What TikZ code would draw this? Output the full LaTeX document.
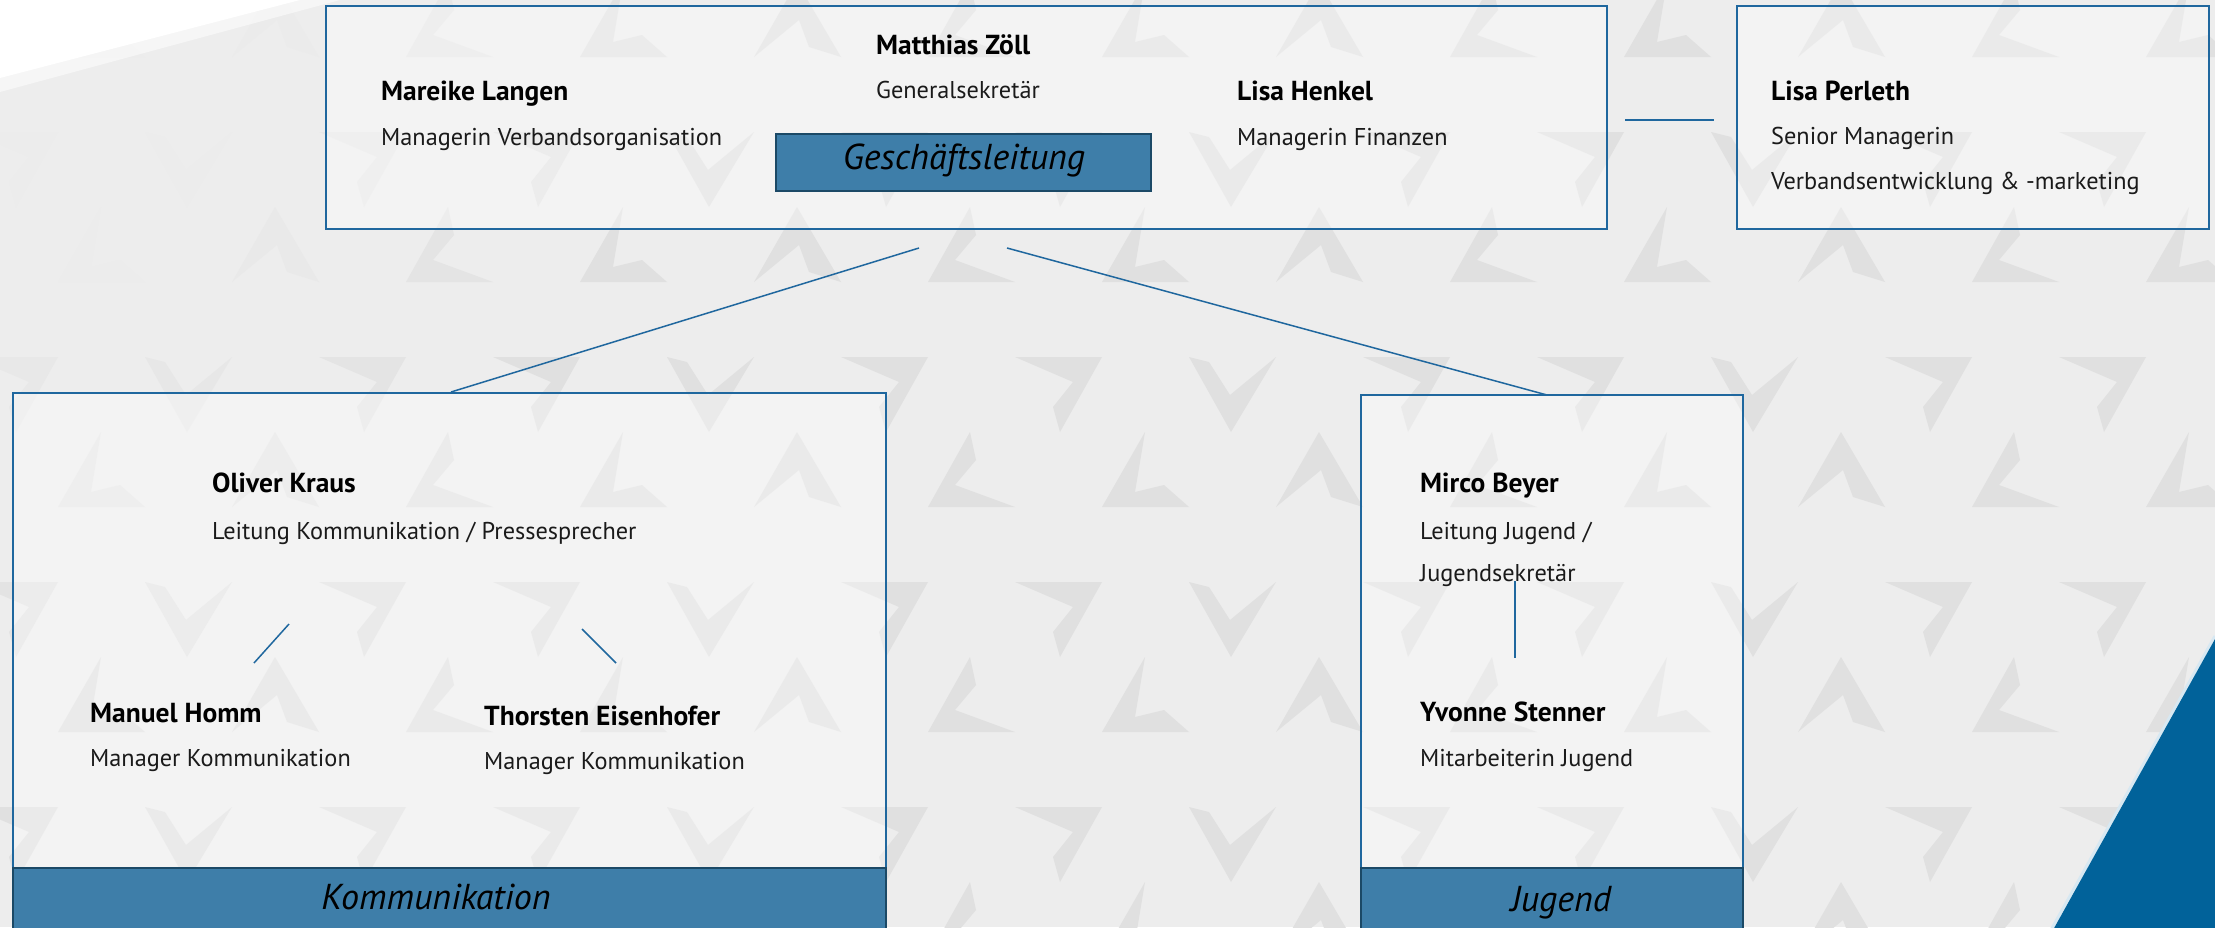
\documentclass[tikz,border=0pt]{standalone}
\usepackage{fontspec}
\setmainfont{PT Sans}
\definecolor{bg}{HTML}{EDEDED}
\definecolor{pat}{HTML}{E0E0E0}
\colorlet{patc}{pat}
\definecolor{frame}{HTML}{1F679E}
\definecolor{band}{HTML}{3E7EA9}
\definecolor{bandedge}{HTML}{1B4966}
\definecolor{corner}{HTML}{01629A}
\definecolor{roletext}{HTML}{1A1A1A}
\tikzset{
  pLa/.pic={\fill[patc] (42,0) -- (48,28) -- (27,53) -- (87,75) -- (0,75) -- cycle;},
  pLb/.pic={\fill[patc] (43,0) -- (33,60) -- (62,53) -- (87,75) -- (0,75) -- cycle;},
  pLam/.pic={\fill[patc] (43,0) -- (87,75) -- (55,65) -- (45,38) -- (0,75) -- cycle;},
  pSeven/.pic={\fill[patc] (0,0) -- (87,0) -- (45,75) -- (38,50) -- (58,25) -- cycle;},
  pVee/.pic={\fill[patc] (0,0) -- (20,5) -- (41,38) -- (87,0) -- (42,75) -- cycle;},
  box/.style={draw=frame, line width=2.5pt, fill=white, fill opacity=0.35, draw opacity=1,
    anchor=north west, inner sep=0pt, outer sep=0pt},
  bandbox/.style={draw=bandedge, line width=2.5pt, fill=band, anchor=north west,
    inner sep=0pt, outer sep=0pt},
  pname/.style={font=\fontsize{27.5}{32}\selectfont\bfseries, anchor=base west, inner sep=0pt, text=black},
  prole/.style={font=\fontsize{24.3}{28}\selectfont, anchor=base west, inner sep=0pt, text=roletext},
  bandtext/.style={font=\fontsize{36}{40}\selectfont\itshape, anchor=base, inner sep=0pt, text=black},
  link/.style={draw=frame, line width=1.5pt}
}
\begin{document}
\begin{tikzpicture}[x=1pt,y=-1pt]
\useasboundingbox (0,0) rectangle (2215,927);
\clip (0,0) rectangle (2215,927);
\fill[bg] (0,0) rectangle (2215,927);
% background pattern, fading out towards the top-left corner
\foreach \m in {-1,...,3}{
  \foreach \j in {-1,...,12}{
    \pgfmathsetmacro\xx{58+174*\j}
    \pgfmathsetmacro\yy{207+225*\m}
    \pgfmathtruncatemacro\tt{mod(\j+3,3)}
    \pgfmathtruncatemacro\pp{min(100,max(8,(veclen(\xx+43,(\yy+37)/1.1)-230)/420*92+8))}
    \colorlet{patc}{pat!\pp!bg}
    \ifcase\tt
      \pic at (\xx,\yy) {pLb};
    \or
      \pic at (\xx,\yy) {pLam};
    \or
      \pic at (\xx,\yy) {pLa};
    \fi
  }
  \foreach \i in {-1,...,12}{
    \pgfmathsetmacro\xx{145+174*\i}
    \pgfmathsetmacro\yy{132+225*\m}
    \pgfmathtruncatemacro\tt{mod(\i+3,3)}
    \pgfmathtruncatemacro\pp{min(100,max(8,(veclen(\xx+43,(\yy+37)/1.1)-230)/420*92+8))}
    \colorlet{patc}{pat!\pp!bg}
    \ifcase\tt
      \pic at (\xx,\yy) {pVee};
    \else
      \pic at (\xx,\yy) {pSeven};
    \fi
  }
}
% top-left white shape
\fill[white, opacity=0.5] (0,0) -- (340,0) -- (0,92) -- cycle;
\fill[white] (0,0) -- (300,0) -- (0,78) -- cycle;
% corner triangle
\draw[line width=3pt, color={rgb,255:red,215;green,232;blue,242}] (2051,930) -- (2215,636);
\fill[corner] (2053,930) -- (2215,639) -- (2215,930) -- cycle;

% boxes
\node[box, minimum width=1281pt, minimum height=223pt] (gl) at (326,6) {};
\node[box, minimum width=472pt, minimum height=223pt] (lpbox) at (1737,6) {};
\node[box, minimum width=873pt, minimum height=545pt] (ko) at (13,393) {};
\node[box, minimum width=382pt, minimum height=543pt] (ju) at (1361,395) {};
% bands
\node[bandbox, minimum width=375pt, minimum height=57pt] (glb) at (776,134) {};
\node[bandbox, minimum width=873pt, minimum height=70pt] (kob) at (13,868) {};
\node[bandbox, minimum width=382pt, minimum height=70pt] (jub) at (1361,868) {};
\node[bandtext] (glt) at (964,169) {Geschäftsleitung};
\node[bandtext] (kot) at (436,909) {Kommunikation};
\node[bandtext] (jut) at (1561,911) {Jugend};

% connectors
\coordinate (c1) at (919,248);
\coordinate (c1e) at (451,392);
\coordinate (c2) at (1007,248);
\coordinate (c2e) at (1547,395);
\coordinate (p1) at (1625,120);
\coordinate (p2) at (1714,120);
\coordinate (k1) at (289,624);
\coordinate (k1e) at (254,663);
\coordinate (k2) at (582,629);
\coordinate (k2e) at (616,663);
\coordinate (j1) at (1515,581);
\coordinate (j1e) at (1515,658);
\draw[link] (c1) -- (c1e);
\draw[link] (c2) -- (c2e);
\draw[link] (p1) -- (p2);
\draw[link] (k1) -- (k1e);
\draw[link] (k2) -- (k2e);
\draw[link] (j1) -- (j1e);

% texts top box
\node[pname] (ml) at (381,100) {Mareike Langen};
\node[prole] (mlr) at (381,145) {Managerin Verbandsorganisation};
\node[pname] (mz) at (876,54) {Matthias Zöll};
\node[prole] (mzr) at (876,98) {Generalsekretär};
\node[pname] (lh) at (1237,100) {Lisa Henkel};
\node[prole] (lhr) at (1237,145) {Managerin Finanzen};
% Perleth
\node[pname] (lpn) at (1771,100) {Lisa Perleth};
\node[prole] (lpr1) at (1771,144) {Senior Managerin};
\node[prole] (lpr2) at (1771,189) {Verbandsentwicklung \& -marketing};
% Kommunikation
\node[pname] (ok) at (212,492) {Oliver Kraus};
\node[prole] (okr) at (212,539) {Leitung Kommunikation / Pressesprecher};
\node[pname] (mh) at (90,722) {Manuel Homm};
\node[prole] (mhr) at (90,766) {Manager Kommunikation};
\node[pname] (te) at (484,725) {Thorsten Eisenhofer};
\node[prole] (ter) at (484,769) {Manager Kommunikation};
% Jugend
\node[pname] (mb) at (1420,492) {Mirco Beyer};
\node[prole] (mbr1) at (1420,539) {Leitung Jugend /};
\node[prole] (mbr2) at (1420,581) {Jugendsekretär};
\node[pname] (ys) at (1420,721) {Yvonne Stenner};
\node[prole] (ysr) at (1420,766) {Mitarbeiterin Jugend};
\end{tikzpicture}
\end{document}
